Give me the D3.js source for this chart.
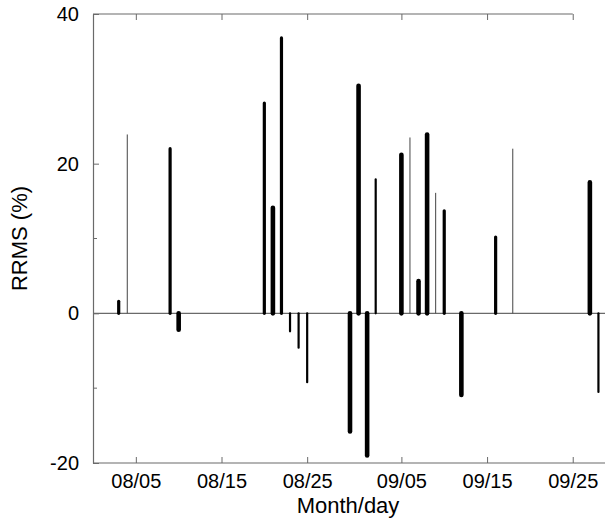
<!DOCTYPE html>
<html>
<head>
<meta charset="utf-8">
<script src="https://cdn.jsdelivr.net/npm/d3@7"></script>
<style>
  body { margin: 0; background: #fff; }
  svg { display: block; }
  text { font-family: "Liberation Sans", Arial, sans-serif; fill: #000; }
</style>
</head>
<body>
<div id="chart"></div>
<script>
// data: day (month/day) and RRMS value (%), grouped by stroke weight in the original figure
var heavyDays   = ["08/10", "08/21", "08/30", "08/31", "09/01", "09/05", "09/07", "09/08", "09/12", "09/27"];
var heavyValues = [-2.2, 14.1, -15.8, 30.4, -19.0, 21.2, 4.3, 23.9, -10.9, 17.5];

var mediumDays   = ["08/03", "08/09", "08/20", "08/22", "09/10", "09/16"];
var mediumValues = [1.6, 22.0, 28.1, 36.8, 13.7, 10.2];

var narrowDays   = ["08/23", "08/24", "08/25", "09/02", "09/28"];
var narrowValues = [-2.4, -4.6, -9.2, 17.9, -10.5];

var thinDays   = ["08/04", "09/06", "09/09", "09/18"];
var thinValues = [23.9, 23.5, 16.1, 22.0];

var xTickLabels = ["08/05", "08/15", "08/25", "09/05", "09/15", "09/25"];
var yTickLabels = [-20, 0, 20, 40];
var yMinorTicks = [-10, 10];

// set the dimensions and margins of the graph
var margin = {top: 14, right: 0, bottom: 60, left: 93},
    width = 605 - margin.left - margin.right,
    height = 523 - margin.top - margin.bottom;

var parseDay = d3.timeParse("%m/%d");

// set the ranges
var x = d3.scaleTime()
    .domain([parseDay("07/31"), parseDay("09/29")])
    .range([0, 514]);

var y = d3.scaleLinear()
    .domain([-20, 40])
    .range([449, 0]);

var svg = d3.select("#chart").append("svg")
    .attr("width", 605)
    .attr("height", 523)
  .append("g")
    .attr("transform", "translate(" + margin.left + "," + margin.top + ")");

var axisColor = "#6a6a6a";

// zero line
svg.append("line")
    .attr("x1", 0).attr("x2", width)
    .attr("y1", y(0)).attr("y2", y(0))
    .attr("stroke", axisColor).attr("stroke-width", 1.2);

// bars, drawn as vertical strokes from zero
function drawSeries(days, values, w, color) {
  var data = days.map(function(d, i) { return {day: parseDay(d), value: values[i]}; });
  svg.selectAll(null)
      .data(data)
      .enter().append("line")
      .attr("x1", function(d) { return x(d.day); })
      .attr("x2", function(d) { return x(d.day); })
      .attr("y1", y(0))
      .attr("y2", function(d) { return y(d.value); })
      .attr("stroke", color)
      .attr("stroke-width", w)
      .attr("stroke-linecap", w > 2 ? "round" : "butt");
}
drawSeries(thinDays, thinValues, 1, "#444");
drawSeries(narrowDays, narrowValues, 2.2, "#000");
drawSeries(mediumDays, mediumValues, 3.2, "#000");
drawSeries(heavyDays, heavyValues, 4.6, "#000");

var xTicks = xTickLabels.map(parseDay);

// bottom axis
var xAxis = svg.append("g")
    .attr("transform", "translate(0," + y(-20) + ")")
    .call(d3.axisBottom(x)
      .tickValues(xTicks)
      .tickFormat(d3.timeFormat("%m/%d"))
      .tickSizeInner(-6)
      .tickSizeOuter(0)
      .tickPadding(11));
xAxis.select(".domain").attr("stroke", axisColor).attr("stroke-width", 1.2).attr("d", "M0,0H" + width);
xAxis.selectAll(".tick line").attr("stroke", axisColor);
xAxis.selectAll(".tick text").style("font-size", "20px");

// top axis (ends at last tick in the original)
var xTop = svg.append("g")
    .call(d3.axisTop(x)
      .tickValues(xTicks)
      .tickSizeInner(-6)
      .tickSizeOuter(0)
      .tickFormat(""));
xTop.select(".domain").attr("stroke", axisColor).attr("stroke-width", 1.2)
    .attr("d", "M0,0H" + x(xTicks[xTicks.length - 1]));
xTop.selectAll(".tick line").attr("stroke", axisColor);

// left axis (plain hyphen for negatives, as in the original)
var yAxis = svg.append("g")
    .call(d3.axisLeft(y)
      .tickValues(yTickLabels)
      .tickFormat(function(d) { return String(d); })
      .tickSizeInner(-6)
      .tickSizeOuter(0)
      .tickPadding(14));
yAxis.select(".domain").attr("stroke", axisColor).attr("stroke-width", 1.2);
yAxis.selectAll(".tick line").attr("stroke", axisColor);
yAxis.selectAll(".tick text").style("font-size", "20px");

svg.append("g").selectAll("line")
    .data(yMinorTicks)
    .enter().append("line")
    .attr("x1", 0).attr("x2", 4)
    .attr("y1", function(d) { return y(d); })
    .attr("y2", function(d) { return y(d); })
    .attr("stroke", axisColor);

// axis titles
svg.append("text")
    .attr("x", 255)
    .attr("y", 499)
    .attr("text-anchor", "middle")
    .style("font-size", "22px")
    .text("Month/day");

svg.append("text")
    .attr("transform", "rotate(-90)")
    .attr("x", -y(10))
    .attr("y", -66)
    .attr("text-anchor", "middle")
    .style("font-size", "22px")
    .text("RRMS (%)");
</script>
</body>
</html>
